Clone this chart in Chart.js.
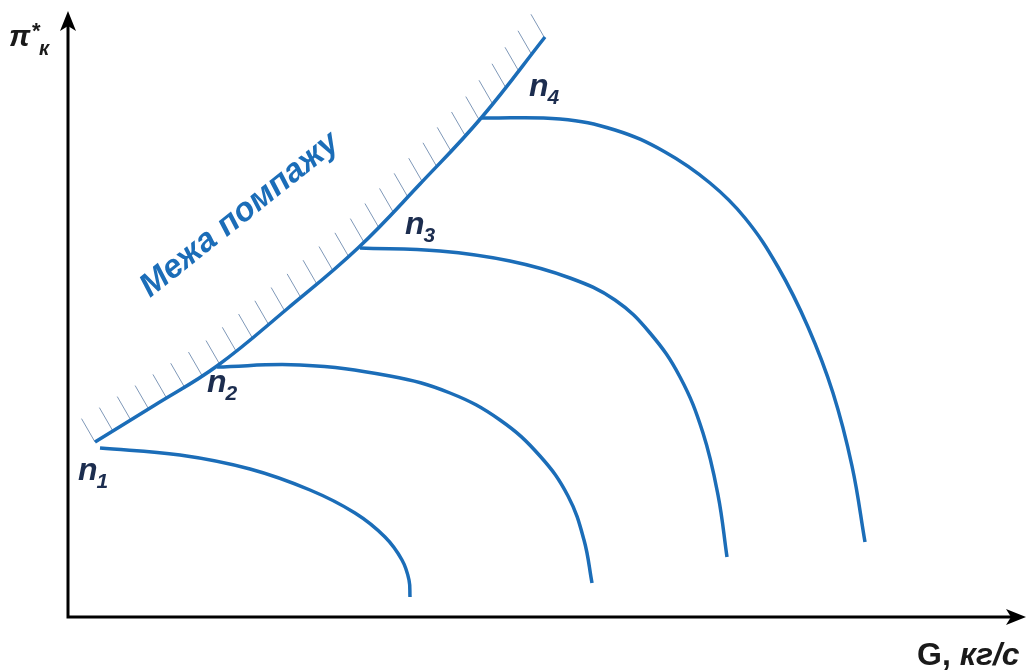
<!DOCTYPE html>
<html>
<head>
<meta charset="utf-8">
<script src="https://cdn.jsdelivr.net/npm/chart.js@4.4.0/dist/chart.umd.min.js"></script>
<style>
  html, body { margin: 0; padding: 0; background: #fff; }
  #wrap { width: 1030px; height: 671px; position: relative; }
</style>
</head>
<body>
<div id="wrap"><canvas id="mapChart"></canvas></div>
<script>
// Compressor map: surge line and constant-speed lines (schematic units)
const surgeG  = [27, 87, 149, 219, 290, 352, 414, 477];
const surgePi = [175, 212, 251, 308, 369, 433, 500, 580];

const n1G  = [32, 112, 182, 242, 287, 317, 334, 341, 342];
const n1Pi = [169, 162, 148, 127, 104, 80, 57, 37, 20];

const n2G  = [149, 232, 322, 382, 432, 472, 500, 516, 524];
const n2Pi = [250, 252, 241, 224, 197, 161, 121, 77, 34];

const n3G  = [292, 372, 442, 502, 547, 582, 612, 635, 650, 659];
const n3Pi = [369, 366, 356, 339, 317, 284, 240, 184, 122, 60];

const n4G  = [414, 492, 547, 597, 642, 677, 710, 740, 765, 784, 797];
const n4Pi = [499, 498, 487, 465, 434, 399, 350, 290, 224, 151, 75];

const speedLabels = ['1', '2', '3', '4'];
const xTitle = 'G, кг/с';
const surgeTitle = 'Межа помпажу';

const BLUE = '#1b6db8';

function pts(xs, ys) {
  return xs.map((x, i) => ({ x: x, y: ys[i] }));
}

function lineSet(label, xs, ys) {
  return {
    label: label,
    data: pts(xs, ys),
    showLine: true,
    borderColor: BLUE,
    borderWidth: 3.5,
    pointRadius: 0,
    tension: 0.4,
    fill: false
  };
}

// axes with arrows, hatching and text
const decor = {
  id: 'decor',
  beforeDatasetsDraw(chart) {
    const ctx = chart.ctx;
    const xs = chart.scales.x, ys = chart.scales.y;
    // hatching along the surge line
    const p = surgeG.map((g, i) => [xs.getPixelForValue(g), ys.getPixelForValue(surgePi[i])]);
    ctx.save();
    ctx.strokeStyle = '#7f98b8';
    ctx.lineWidth = 1;
    const step = 21, len = 27;
    const dx = -0.5, dy = -0.866;
    let carry = 0;
    for (let i = 0; i < p.length - 1; i++) {
      const ax = p[i][0], ay = p[i][1], bx = p[i + 1][0], by = p[i + 1][1];
      const seg = Math.hypot(bx - ax, by - ay);
      let d = carry;
      while (d <= seg) {
        const t = d / seg;
        const hx = ax + (bx - ax) * t, hy = ay + (by - ay) * t;
        ctx.beginPath();
        ctx.moveTo(hx, hy);
        ctx.lineTo(hx + dx * len, hy + dy * len);
        ctx.stroke();
        d += step;
      }
      carry = d - seg;
    }
    ctx.restore();
  },
  afterDraw(chart) {
    const ctx = chart.ctx;
    const a = chart.chartArea;
    const x0 = a.left, y0 = a.bottom;
    ctx.save();
    // axes
    ctx.strokeStyle = '#000';
    ctx.fillStyle = '#000';
    ctx.lineWidth = 3;
    ctx.beginPath();
    ctx.moveTo(x0, y0);
    ctx.lineTo(x0, 24);
    ctx.moveTo(x0 - 1.5, y0);
    ctx.lineTo(1012, y0);
    ctx.stroke();
    ctx.beginPath();
    ctx.moveTo(x0, 11);
    ctx.lineTo(x0 - 8, 31);
    ctx.lineTo(x0, 26);
    ctx.lineTo(x0 + 8, 31);
    ctx.closePath();
    ctx.fill();
    ctx.beginPath();
    ctx.moveTo(1026, y0);
    ctx.lineTo(1006, y0 - 8);
    ctx.lineTo(1011, y0);
    ctx.lineTo(1006, y0 + 8);
    ctx.closePath();
    ctx.fill();

    // axis titles
    ctx.fillStyle = '#1a1a1a';
    ctx.textBaseline = 'alphabetic';
    ctx.font = 'bold italic 30px "Liberation Sans"';
    ctx.fillText('π', 9, 46);
    ctx.font = 'bold 22px "Liberation Sans"';
    ctx.fillText('*', 32, 38);
    ctx.font = 'bold italic 20px "Liberation Sans"';
    ctx.fillText('к', 39, 55);

    ctx.font = 'bold 32px "Liberation Sans"';
    ctx.textAlign = 'left';
    ctx.fillText('G,', 917, 665);
    const gw = ctx.measureText('G, ').width;
    ctx.font = 'bold italic 32px "Liberation Sans"';
    ctx.fillText(xTitle.slice(3), 917 + gw, 665);

    // speed labels
    const xs = chart.scales.x, ys = chart.scales.y;
    const starts = [[n1G[0], n1Pi[0]], [n2G[0], n2Pi[0]], [n3G[0], n3Pi[0]], [n4G[0], n4Pi[0]]];
    const offs = [[-22, 32], [-10, 25], [45, -14], [47, -22]];
    ctx.fillStyle = '#1c2d4f';
    starts.forEach((s, i) => {
      const px = xs.getPixelForValue(s[0]) + offs[i][0];
      const py = ys.getPixelForValue(s[1]) + offs[i][1];
      ctx.font = 'bold italic 32px "Liberation Sans"';
      ctx.fillText('n', px, py);
      const w = ctx.measureText('n').width;
      ctx.font = 'bold italic 21px "Liberation Sans"';
      ctx.fillText(speedLabels[i], px + w - 1, py + 8);
    });

    // surge line caption
    ctx.translate(150, 298);
    ctx.rotate(-38.5 * Math.PI / 180);
    ctx.fillStyle = BLUE;
    ctx.font = 'bold italic 33px "Liberation Sans"';
    ctx.fillText(surgeTitle, 0, 0);
    ctx.restore();
  }
};

new Chart(document.getElementById('mapChart'), {
  type: 'scatter',
  data: {
    datasets: [
      lineSet('surge', surgeG, surgePi),
      lineSet('n1', n1G, n1Pi),
      lineSet('n2', n2G, n2Pi),
      lineSet('n3', n3G, n3Pi),
      lineSet('n4', n4G, n4Pi)
    ]
  },
  options: {
    responsive: true,
    maintainAspectRatio: false,
    animation: false,
    layout: { padding: { left: 68, right: 2, top: 0, bottom: 54 } },
    plugins: { legend: { display: false }, tooltip: { enabled: false } },
    scales: {
      x: { type: 'linear', min: 0, max: 960, display: false },
      y: { type: 'linear', min: 0, max: 617, display: false }
    }
  },
  plugins: [decor]
});
</script>
</body>
</html>
